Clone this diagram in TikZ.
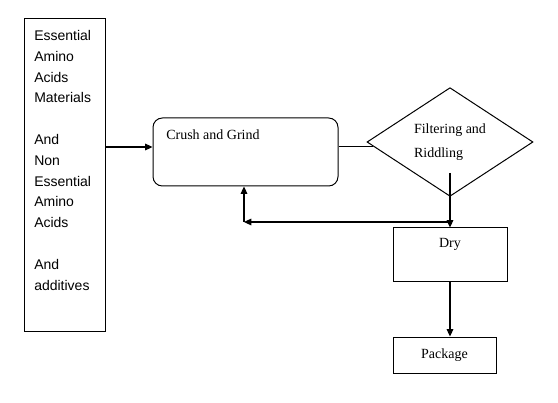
\documentclass[tikz,border=0pt]{standalone}
\usepackage{fontspec}
\setmainfont{Liberation Serif}
\newfontfamily\arialfont{Liberation Sans}
\usepackage{tikz}
\usetikzlibrary{arrows.meta, positioning, shapes.geometric}

\begin{document}
\begin{tikzpicture}[x=0.75pt,y=-0.75pt,>={Triangle[length=5.5pt,width=5pt]},
    box/.style={draw,line width=0.75pt,inner sep=0pt},
    txt/.style={inner sep=0pt,font=\fontsize{10.5}{18}\selectfont},
    arr/.style={->,line width=0.8pt}]
  \useasboundingbox (0,0) rectangle (558,403);
  % raw materials
  \node[box,minimum width=60.75pt,minimum height=234pt] (raw) at (64.5,175) {};
  \node[txt,anchor=north west,align=left,
        font=\arialfont\fontsize{10.5}{15.6}\selectfont] (rawtxt) at (34,30)
    {Essential\\Amino\\Acids\\Materials\\\mbox{}\\And\\Non\\Essential\\Amino\\Acids\\\mbox{}\\And\\additives};
  % crush and grind
  \node[box,rounded corners=7pt,minimum width=138.75pt,minimum height=51pt] (crush) at (245.5,152) {};
  \node[txt,anchor=west] (crushtxt) at (166,135) {Crush and Grind};
  % filtering
  \node[box,diamond,txt,draw,line width=0.75pt,align=left,
        minimum width=124.5pt,minimum height=67.5pt] (filt) at (450,142)
    {Filtering and\\Riddling};
  % dry and package
  \node[box,minimum width=85.5pt,minimum height=40.5pt] (dry) at (450,255) {};
  \node[txt] (drytxt) at (450,244) {Dry};
  \node[box,txt,draw,minimum width=77.25pt,minimum height=27pt] (pack) at (444.5,355) {Package};
  \coordinate (feed) at (130,147);
  \coordinate (sift) at (450,173);
  \coordinate (back) at (244,222);
  \draw[arr] (raw.east |- feed) -- (crush.west |- feed);
  \draw[line width=0.8pt] (crush.east |- filt.183) -- (filt.183);
  \draw[arr] (sift) -- (dry.north);
  \draw[arr] (sift |- back) -- (back);
  \draw[arr] (back) -- (crush.south -| back);
  \draw[arr] (dry.south) -- (dry.south |- pack.north);
\end{tikzpicture}
\end{document}
